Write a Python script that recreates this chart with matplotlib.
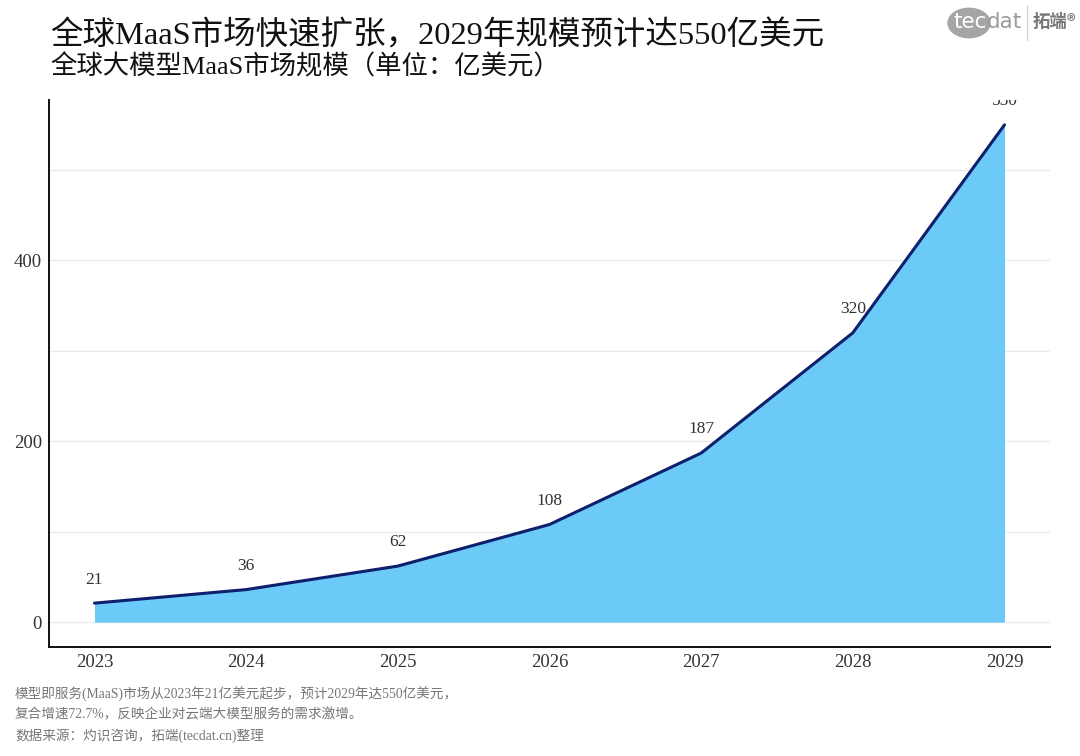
import matplotlib
matplotlib.use("Agg")
import matplotlib.pyplot as plt
from matplotlib.ticker import MultipleLocator, FixedLocator
from matplotlib.patches import Circle
from matplotlib.lines import Line2D

years = [2023, 2024, 2025, 2026, 2027, 2028, 2029]
market_size = [21, 36, 62, 108, 187, 320, 550]
value_labels = ["21", "36", "62", "108", "187", "320", "550"]
y_tick_values = [0, 200, 400]

title = "全球MaaS市场快速扩张，2029年规模预计达550亿美元"
subtitle = "全球大模型MaaS市场规模（单位：亿美元）"
caption_lines = [
    "模型即服务(MaaS)市场从2023年21亿美元起步，预计2029年达550亿美元，",
    "复合增速72.7%，反映企业对云端大模型服务的需求激增。",
    "数据来源：灼识咨询，拓端(tecdat.cn)整理",
]

FAM = ["Liberation Serif", "Noto Sans CJK SC", "DejaVu Sans"]
plt.rcParams["font.family"] = FAM

fig = plt.figure(figsize=(10.8, 7.56), dpi=100)
ax = fig.add_axes([49/1080, 1-647/756, (1050-49)/1080, (647-100)/756])

fill_color = "#66C9F7"
line_color = "#0E1F6E"

ax.fill_between(years, 0, market_size, color=fill_color, alpha=0.97, linewidth=0, zorder=2)
ax.plot(years, market_size, color=line_color, linewidth=2.2, zorder=3,
        solid_joinstyle="round", solid_capstyle="round")

for x, y, lab in zip(years, market_size, value_labels):
    ax.annotate(lab, (x, y), xytext=(0, 17), textcoords="offset points",
                ha="center", va="center", fontsize=12.5, color="#333333",
                family=FAM, annotation_clip=False, clip_on=True, zorder=4)

span = max(market_size)
ax.set_ylim(-0.05*span, span*1.05)
ax.set_xlim(years[0]-0.3, years[-1]+0.3)

ax.yaxis.set_major_locator(FixedLocator(y_tick_values))
ax.yaxis.set_minor_locator(MultipleLocator(100))
ax.set_xticks(years)
ax.set_xticklabels([str(y) for y in years])
ax.grid(True, which="both", axis="y", color="#EBEBEB", linewidth=0.9, zorder=1)
ax.set_axisbelow(True)
ax.tick_params(axis="both", which="both", length=0, labelsize=13.5, colors="#333333")
ax.tick_params(axis="x", pad=5)
ax.tick_params(axis="y", pad=5)
for lab in ax.get_xticklabels() + ax.get_yticklabels():
    lab.set_family(FAM)

for s in ["top", "right"]:
    ax.spines[s].set_visible(False)
for s in ["left", "bottom"]:
    ax.spines[s].set_color("#111111")
    ax.spines[s].set_linewidth(1.4)

fig.text(50/1080, 1-36/756, title, fontsize=23.4, color="#111111", va="center", ha="left", family=FAM)
fig.text(50/1080, 1-67/756, subtitle, fontsize=19, color="#111111", va="center", ha="left", family=FAM)

for i, line in enumerate(caption_lines):
    fig.text(15/1080, 1-(694+21*i)/756, line, fontsize=9.8, color="#777777",
             va="center", ha="left", family=FAM)

# logo
fig.patches.append(Circle((969/1080, 1-23/756), 21/1080, transform=fig.transFigure,
                          color="#A5A5A5", zorder=5))
fig.text(953/1080, 1-22/756, "tec", fontsize=15.5, color="white", ha="left", va="center",
         family=["DejaVu Sans"], zorder=6)
fig.text(987/1080, 1-22/756, "dat", fontsize=15.5, color="#9A9A9A", ha="left", va="center",
         family=["DejaVu Sans"], zorder=6)
fig.add_artist(Line2D([1027/1080, 1027/1080], [1-6/756, 1-40/756], transform=fig.transFigure,
                      color="#CCCCCC", linewidth=0.8))
fig.text(1033/1080, 1-22/756, "拓端®", fontsize=12.5, color="#777777", ha="left", va="center",
         family=["Noto Sans CJK SC", "DejaVu Sans"], fontweight="bold")

fig.savefig("out.png", dpi=100, facecolor="white")
